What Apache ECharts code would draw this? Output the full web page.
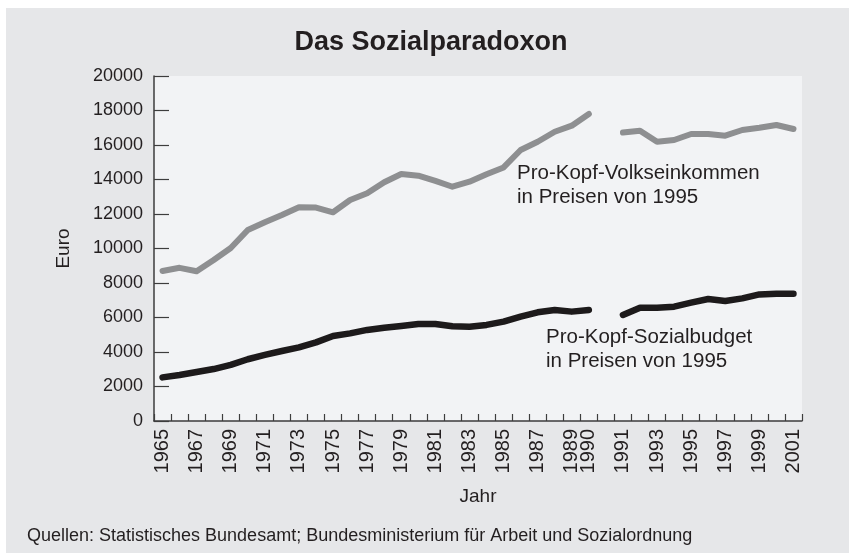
<!DOCTYPE html>
<html><head><meta charset="utf-8">
<script src="https://cdn.jsdelivr.net/npm/echarts@6/dist/echarts.min.js"></script>
<style>html,body{margin:0;padding:0;background:#fff;} #c{width:849px;height:553px;}</style>
</head><body><div id="c"></div>
<script>
// Categories: 1965-1990, one empty slot, 1991-2001
const years = ['1965','1966','1967','1968','1969','1970','1971','1972','1973','1974','1975','1976','1977','1978','1979','1980','1981','1982','1983','1984','1985','1986','1987','1988','1989','1990','','1991','1992','1993','1994','1995','1996','1997','1998','1999','2000','2001'];
// Pro-Kopf-Volkseinkommen in Preisen von 1995 (Euro)
const volkseinkommen = [8700,8880,8680,9330,10030,11070,11520,11940,12390,12370,12100,12810,13200,13840,14320,14220,13920,13580,13870,14300,14700,15710,16190,16770,17120,17800,null,16720,16830,16190,16290,16640,16640,16540,16870,17000,17160,16930];
// Pro-Kopf-Sozialbudget in Preisen von 1995 (Euro)
const sozialbudget = [2530,2670,2840,3010,3250,3580,3830,4060,4270,4560,4930,5080,5280,5410,5510,5620,5620,5490,5470,5570,5760,6050,6300,6440,6340,6440,null,6150,6570,6570,6630,6860,7070,6960,7110,7340,7380,7380];
const yMin = 0, yMax = 20000, yStep = 2000;

const FONT = 'Liberation Sans, Arial, Helvetica, sans-serif';
const TXT = '#231f20';
const AX = '#3d3d3d';

const chart = echarts.init(document.getElementById('c'), null, {renderer:'canvas'});
chart.setOption({
  animation: false,
  backgroundColor: '#ffffff',
  textStyle: {fontFamily: FONT},
  title: {
    text: 'Das Sozialparadoxon',
    left: 426, top: 24, textAlign: 'center',
    textStyle: {fontFamily: FONT, fontWeight: 'bold', fontSize: 27, color: TXT}
  },
  graphic: [
    {type:'rect', z:-10, silent:true, shape:{x:6, y:8, width:843, height:545}, style:{fill:'#e6e7e9'}},
    {type:'text', left: 517, top: 161, style:{text:'Pro-Kopf-Volkseinkommen\nin Preisen von 1995', font:'20.5px '+FONT, fill:TXT, lineHeight:24}},
    {type:'text', left: 546, top: 325, style:{text:'Pro-Kopf-Sozialbudget\nin Preisen von 1995', font:'20.5px '+FONT, fill:TXT, lineHeight:24}},
    {type:'text', left: 27, top: 527, style:{text:'Quellen: Statistisches Bundesamt; Bundesministerium für Arbeit und Sozialordnung', font:'18px '+FONT, fill:TXT}}
  ],
  grid: {left:154, right:47, top:76, bottom:132, show:true, backgroundColor:'#f2f3f5', borderWidth:0},
  xAxis: {
    type:'category', data: years, boundaryGap: true,
    name:'Jahr', nameLocation:'middle', nameGap: 66,
    nameTextStyle:{fontSize:19, color:TXT, fontFamily:FONT},
    axisLine:{lineStyle:{color:AX, width:1.5}},
    axisTick:{show:true, inside:true, length:7, interval:0, lineStyle:{color:AX, width:1.2}},
    axisLabel:{
      rotate:90, margin:8, fontSize:20, color:TXT, fontFamily:FONT,
      interval:(i, v) => v !== '' && (Number(v) % 2 === 1 || v === '1990')
    },
    splitLine:{show:false}
  },
  yAxis: {
    type:'value', min:yMin, max:yMax, interval:yStep,
    name:'Euro', nameLocation:'middle', nameGap: 81,
    nameTextStyle:{fontSize:19, color:TXT, fontFamily:FONT},
    axisLine:{show:true, lineStyle:{color:AX, width:1.5}},
    axisTick:{show:true, inside:true, length:15, lineStyle:{color:AX, width:1.2}},
    axisLabel:{fontSize:18, color:TXT, fontFamily:FONT, margin:11, formatter:(v) => String(v)},
    splitLine:{show:false}
  },
  series: [
    {type:'line', name:'Pro-Kopf-Volkseinkommen', data: volkseinkommen, connectNulls:false, showSymbol:false, symbol:'none',
     lineStyle:{color:'#8e8f91', width:6, cap:'round', join:'round'}},
    {type:'line', name:'Pro-Kopf-Sozialbudget', data: sozialbudget, connectNulls:false, showSymbol:false, symbol:'none',
     lineStyle:{color:'#1d1a1b', width:6.5, cap:'round', join:'round'}}
  ]
});
</script>
</body></html>
